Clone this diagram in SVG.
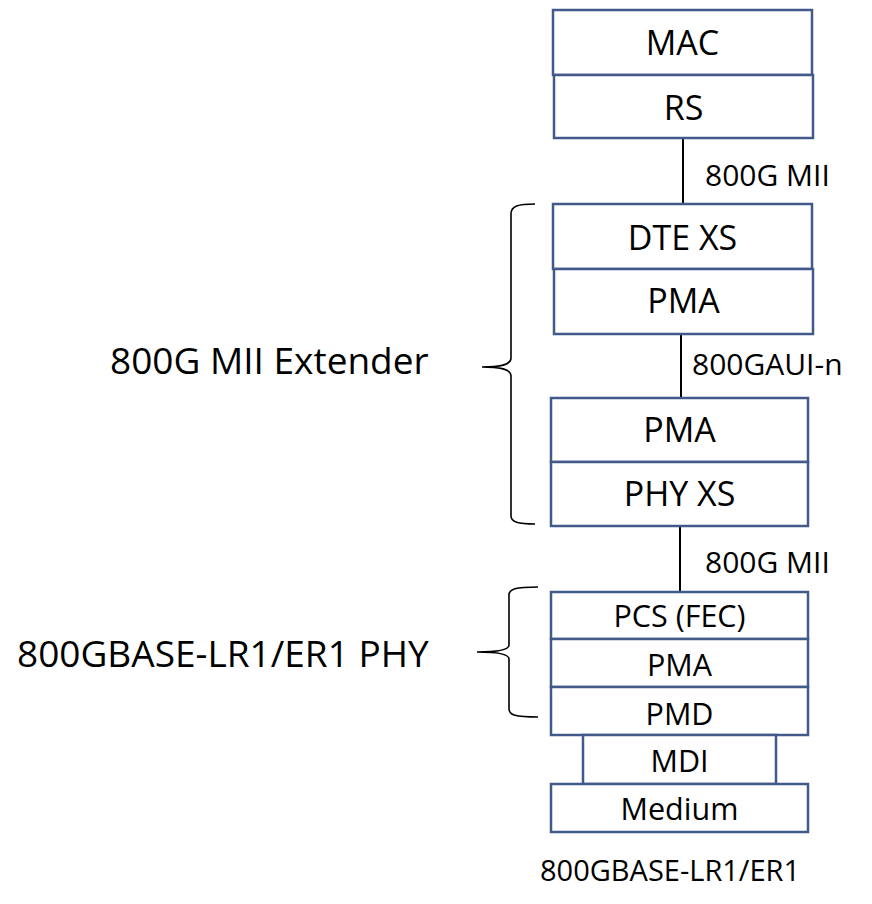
<svg xmlns="http://www.w3.org/2000/svg" width="872" height="904" viewBox="0 0 872 904">
<style>
.box{fill:#ffffff;stroke:#42598a;stroke-width:2.5}
.t{font-family:"Open Sans","Liberation Sans",sans-serif;fill:#000;text-anchor:middle}
.big{font-size:34px}
.sm{font-size:30.5px}
.lbl{font-family:"Open Sans","Liberation Sans",sans-serif;fill:#000;font-size:30px}
.side{font-family:"Open Sans","Liberation Sans",sans-serif;fill:#000;font-size:37px}
.conn{stroke:#000;stroke-width:2;fill:none}
.brace{stroke:#000;stroke-width:1.6;fill:none}
</style>
<rect width="872" height="904" fill="#ffffff"/>
<g id="connectors">
<line class="conn" x1="683" y1="138" x2="683" y2="204"/>
<line class="conn" x1="681" y1="334" x2="681" y2="398"/>
<line class="conn" x1="680" y1="526" x2="680" y2="592"/>
</g>
<g id="mac"><rect class="box" x="553" y="10" width="259" height="65"/><text class="t big" x="682.5" y="55">MAC</text></g>
<g id="rs"><rect class="box" x="554" y="75" width="259" height="63"/><text class="t big" x="683.5" y="120">RS</text></g>
<g id="dtexs"><rect class="box" x="553" y="204" width="259" height="65"/><text class="t big" x="682.5" y="250">DTE XS</text></g>
<g id="pma1"><rect class="box" x="554" y="269" width="259" height="65"/><text class="t big" x="683.5" y="313">PMA</text></g>
<g id="pma2"><rect class="box" x="551" y="398" width="257" height="64"/><text class="t big" x="679.5" y="442">PMA</text></g>
<g id="phyxs"><rect class="box" x="551" y="462" width="257" height="64"/><text class="t big" x="679.5" y="506">PHY XS</text></g>
<g id="pcs"><rect class="box" x="551" y="592" width="257" height="47"/><text class="t sm" x="679.5" y="627">PCS (FEC)</text></g>
<g id="pma3"><rect class="box" x="551" y="639" width="257" height="48"/><text class="t sm" x="679.5" y="676">PMA</text></g>
<g id="pmd"><rect class="box" x="551" y="687" width="257" height="48"/><text class="t sm" x="679.5" y="725">PMD</text></g>
<g id="mdi"><rect class="box" x="583" y="735" width="193" height="49"/><text class="t sm" x="679.5" y="772">MDI</text></g>
<g id="medium"><rect class="box" x="551" y="784" width="257" height="48"/><text class="t sm" x="679.5" y="820">Medium</text></g>
<g id="labels">
<text class="lbl" x="705" y="186">800G MII</text>
<text class="lbl" x="692" y="375">800GAUI-n</text>
<text class="lbl" x="705" y="573">800G MII</text>
<text class="lbl" x="540" y="881" style="font-size:29px">800GBASE-LR1/ER1</text>
</g>
<g id="extender">
<path class="brace" d="M535,204 C518,204 511,206 511,214 L511,358 C511,365 500,367 482,367 C500,367 511,369 511,376 L511,516 C511,522 518,524 535,524"/>
<text class="side" x="110" y="374">800G MII Extender</text>
</g>
<g id="phy">
<path class="brace" d="M538,587 C515,587 509,589 509,595 L509,645 C509,650 497,652 477,652 C497,652 509,654 509,659 L509,709 C509,715 515,717 538,717"/>
<text class="side" x="17" y="667">800GBASE-LR1/ER1 PHY</text>
</g>
</svg>
